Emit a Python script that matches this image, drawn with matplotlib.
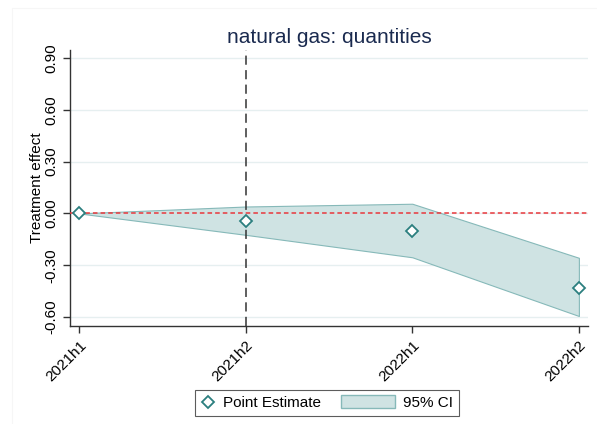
import numpy as np
import matplotlib
matplotlib.use("Agg")
import matplotlib.pyplot as plt
from matplotlib.patches import Patch, Rectangle
from matplotlib.lines import Line2D
from matplotlib.legend_handler import HandlerPatch

periods = ["2021h1", "2021h2", "2022h1", "2022h2"]
estimate = [0.0, -0.045, -0.10, -0.43]
ci_upper = [0.0, 0.04, 0.056, -0.257]
ci_lower = [0.0, -0.124, -0.254, -0.594]
yticks = [-0.6, -0.3, 0.0, 0.3, 0.6, 0.9]

plt.rcParams['font.family'] = ['Liberation Sans', 'DejaVu Sans']

teal = '#2b7f7f'
fill = '#cfe3e3'
fill_edge = '#86b9b9'

fig = plt.figure(figsize=(5.97, 4.24), dpi=100)
# faint outer graph region border
fig.add_artist(Rectangle((12 / 597, -0.05), 1.2, 1 - 8 / 424 + 0.05, transform=fig.transFigure,
                         fill=False, edgecolor='#f6f6f6', lw=0.8))
ax = fig.add_axes([0.1173, 0.2311, 0.8677, 0.6509])

x = np.arange(len(periods))
ax.fill_between(x, ci_lower, ci_upper, facecolor=fill, edgecolor=fill_edge, lw=0.8, zorder=2)
ax.plot(x, estimate, ls='none', marker='D', ms=6.5, mfc='white', mec=teal, mew=1.3, zorder=4)

ax.axhline(0, color='#e8383c', ls=(0, (3, 2)), lw=1.1, zorder=3)
ax.axvline(1, color='#333333', ls=(0, (6, 3.5)), lw=1.1, zorder=3)

ax.set_xlim(-0.055, 3.055)
ax.set_ylim(-0.652, 0.946)
ax.set_yticks(yticks)
ax.set_yticklabels(['%.2f' % v for v in yticks], rotation=90, va='center', fontsize=11)
ax.set_xticks(x)
ax.set_xticklabels(periods, rotation=45, ha='right', rotation_mode='anchor', fontsize=11)
ax.grid(axis='y', color='#e6eff0', lw=1.0, zorder=0)
ax.set_axisbelow(True)

for s in ['top', 'right']:
    ax.spines[s].set_visible(False)
for s in ['left', 'bottom']:
    ax.spines[s].set_color('#333333')
    ax.spines[s].set_linewidth(1.0)
ax.tick_params(color='#333333', length=5, width=1.0)

ax.set_ylabel('Treatment effect', fontsize=11, labelpad=0)
ax.set_title('natural gas: quantities', fontsize=15, color='#1a2a4f', pad=5)


def wide_patch(legend, orig_handle, xdescent, ydescent, width, height, fontsize):
    extra = 29
    return Rectangle((-xdescent - extra, -ydescent - 1), width + extra, height + 2)


handles = [
    Line2D([], [], ls='none', marker='D', ms=6.5, mfc='white', mec=teal, mew=1.3),
    Patch(facecolor=fill, edgecolor=fill_edge),
]
leg = fig.legend(handles, ['Point Estimate', '95% CI'], loc='center', bbox_to_anchor=(0.548, 0.0495),
                 ncol=2, fontsize=11, frameon=True, fancybox=False, edgecolor='#333333',
                 handlelength=0.9, columnspacing=4.0, handletextpad=0.5, borderpad=0.4,
                 handler_map={Patch: HandlerPatch(patch_func=wide_patch)})
leg.get_frame().set_linewidth(0.8)

fig.savefig('out.png', dpi=100)
